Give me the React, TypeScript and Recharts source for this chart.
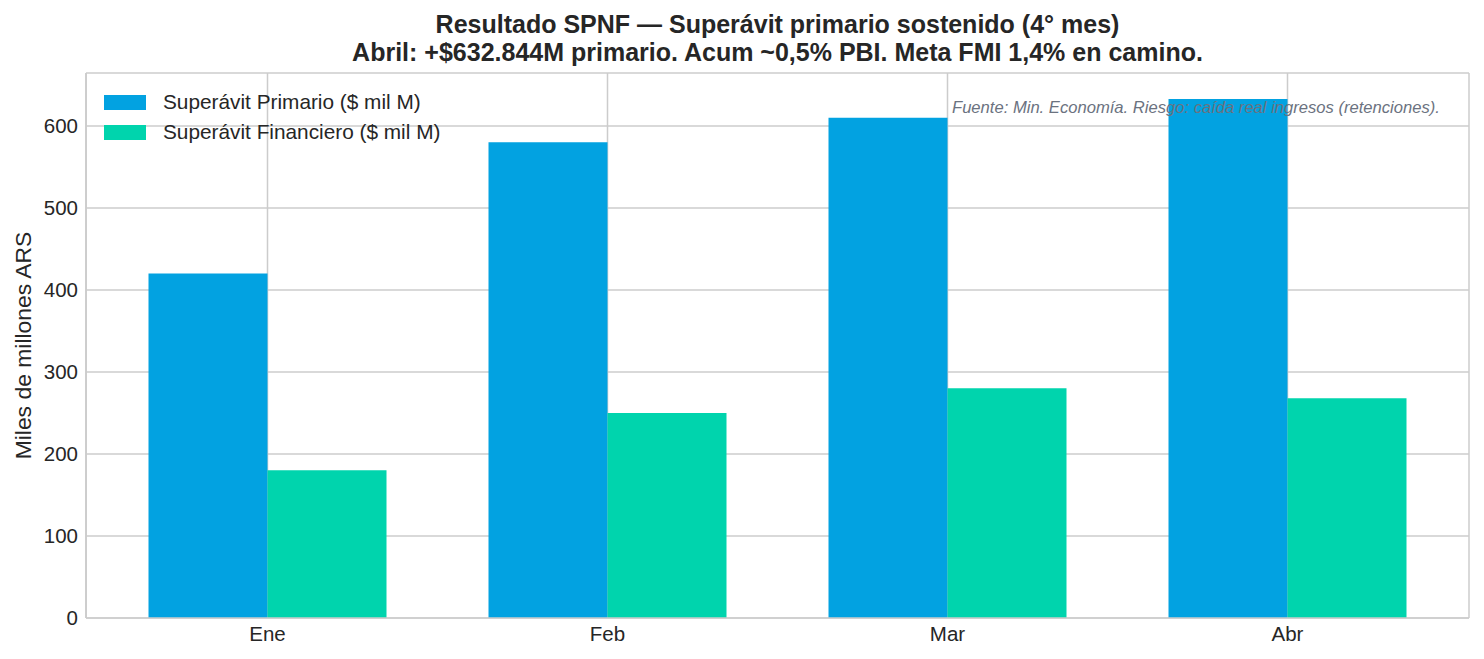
import { BarChart, Bar, XAxis, YAxis, CartesianGrid } from 'recharts';

// Data (miles de millones ARS)
const meses = ['Ene', 'Feb', 'Mar', 'Abr'];
const primario = [420, 580, 610, 632.844];
const financiero = [180, 250, 280, 268];
const yTicks = [0, 100, 200, 300, 400, 500, 600];

const series = [
  { key: 'primario', name: 'Superávit Primario ($ mil M)', color: '#02a2e1' },
  { key: 'financiero', name: 'Superávit Financiero ($ mil M)', color: '#00d4ad' },
];

const data = meses.map((mes, i) => ({ mes, primario: primario[i], financiero: financiero[i] }));

const FONT = '"Liberation Sans", Arial, Helvetica, sans-serif';
const TEXT = '#262626';
const GRID = '#cccccc';

export default function App() {
  return (
    <div style={{ position: 'absolute', left: 0, top: 0, width: 1484, height: 659, background: '#fff', fontFamily: FONT }}>
      {/* title */}
      <div style={{ position: 'absolute', left: 86, width: 1383, top: 10, textAlign: 'center', fontSize: 25, fontWeight: 'bold', lineHeight: '28px', color: TEXT }}>
        <div>Resultado SPNF — Superávit primario sostenido (4° mes)</div>
        <div>Abril: +$632.844M primario. Acum ~0,5% PBI. Meta FMI 1,4% en camino.</div>
      </div>

      <div style={{ position: 'absolute', left: 0, top: 0 }}>
        <BarChart
          width={1484}
          height={659}
          data={data}
          margin={{ top: 73, right: 15, bottom: 0, left: 0 }}
          barCategoryGap="15%"
          barGap={0}
        >
          <CartesianGrid stroke={GRID} strokeWidth={1.5} />
          <XAxis
            dataKey="mes"
            height={41}
            padding={{ left: 11.5, right: 11.5 }}
            tickLine={false}
            axisLine={{ stroke: GRID, strokeWidth: 1.7 }}
            tick={{ fontSize: 20.5, fill: TEXT, fontFamily: FONT }}
          />
          <XAxis xAxisId="top" dataKey="mes" orientation="top" height={0} tick={false} tickLine={false} padding={{ left: 11.5, right: 11.5 }} axisLine={{ stroke: GRID, strokeWidth: 1.7 }} />
          <YAxis
            width={86}
            domain={[0, 664.49]}
            ticks={yTicks}
            tickLine={false}
            axisLine={{ stroke: GRID, strokeWidth: 1.7 }}
            tick={{ fontSize: 20.5, fill: TEXT, fontFamily: FONT }}
            label={{
              content: ({ viewBox }: any) => {
                const cy = viewBox.y + viewBox.height / 2;
                return (
                  <text x={22.5} y={cy} transform={`rotate(-90, 22.5, ${cy})`} textAnchor="middle" dominantBaseline="central" fontSize={22.9} fill={TEXT} fontFamily={FONT}>
                    Miles de millones ARS
                  </text>
                );
              },
            }}
          />
          <YAxis yAxisId="right" orientation="right" width={0} domain={[0, 664.49]} tick={false} tickLine={false} axisLine={{ stroke: GRID, strokeWidth: 1.7 }} />
          {series.map(s => (
            <Bar key={s.key} dataKey={s.key} name={s.name} fill={s.color} isAnimationActive={false} />
          ))}
        </BarChart>
      </div>

      {/* legend */}
      <div style={{ position: 'absolute', left: 104, top: 87 }}>
        {series.map(s => (
          <div key={s.key} style={{ display: 'flex', alignItems: 'center', height: 30 }}>
            <span style={{ display: 'inline-block', width: 42, height: 15, background: s.color, marginRight: 17 }} />
            <span style={{ fontSize: 20.8, color: TEXT }}>{s.name}</span>
          </div>
        ))}
      </div>

      {/* note */}
      <div style={{ position: 'absolute', left: 952, top: 98, fontSize: 16.6, fontStyle: 'italic', color: '#6b7280', whiteSpace: 'nowrap' }}>
        Fuente: Min. Economía. Riesgo: caída real ingresos (retenciones).
      </div>
    </div>
  );
}
